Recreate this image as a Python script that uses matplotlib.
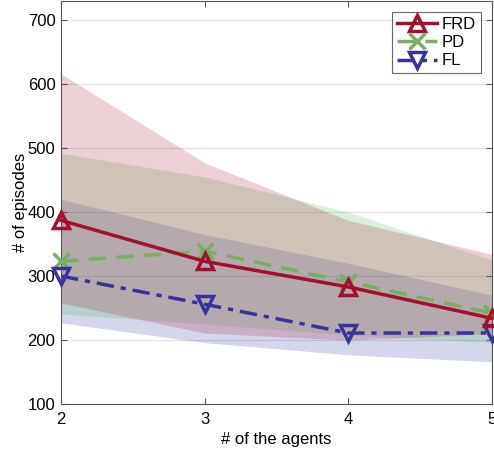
import matplotlib
matplotlib.use("Agg")
import matplotlib.pyplot as plt

plt.rcParams['font.family'] = ['Liberation Sans', 'DejaVu Sans']

agents = [2, 3, 4, 5]
frd_mean = [387, 323, 283, 234]
frd_upper = [616, 477, 387, 334]
frd_lower = [258, 211, 200, 210]
pd_mean = [323, 339, 291, 242]
pd_upper = [492, 455, 400, 325]
pd_lower = [241, 225, 208, 196]
fl_mean = [300, 256, 211, 211]
fl_upper = [420, 365, 320, 270]
fl_lower = [227, 196, 177, 166]
labels = ['FRD', 'PD', 'FL']

c_frd = '#a50f2d'
c_pd = '#76b064'
c_fl = '#37339a'

fig = plt.figure(figsize=(4.94, 4.54), dpi=100)
ax = fig.add_axes([0.1235, 0.110, 0.8725, 0.888])

ax.fill_between(agents, fl_lower, fl_upper, color=(0.16, 0.2, 0.6), alpha=0.2, linewidth=0)
ax.fill_between(agents, pd_lower, pd_upper, color=(0.31, 0.7, 0.31), alpha=0.2, linewidth=0)
ax.fill_between(agents, frd_lower, frd_upper, color=(0.63, 0.08, 0.2), alpha=0.2, linewidth=0)

ax.plot(agents, frd_mean, color=c_frd, lw=2.5, ls='-', marker='^', ms=11,
        mfc='none', mew=2.5, label=labels[0], clip_on=False, zorder=5)
ax.plot(agents, pd_mean, color=c_pd, lw=2.5, ls=(0, (5, 3)), marker='x', ms=11,
        mew=2.5, label=labels[1], clip_on=False, zorder=4)
ax.plot(agents, fl_mean, color=c_fl, lw=2.5, ls=(0, (5, 2, 1.5, 2)), marker='v', ms=11,
        mfc='none', mew=2.5, label=labels[2], clip_on=False, zorder=4)

ax.set_xlim(2, 5)
ax.set_ylim(100, 730)
ax.set_xticks(agents)
ax.set_yticks(range(100, 701, 100))
ax.tick_params(direction='in', top=True, right=True, labelsize=12, length=4,
               color='#555555')
ax.tick_params(axis='y', pad=4)
ax.tick_params(axis='x', pad=6)
ax.grid(axis='y', color='#e0e0e0', lw=0.8)
ax.set_axisbelow(True)
for s in ax.spines.values():
    s.set_color('#555555')
    s.set_linewidth(0.8)

ax.set_xlabel('# of the agents', fontsize=12, labelpad=3)
ax.set_ylabel('# of episodes', fontsize=12, labelpad=0)

leg = ax.legend(loc='upper right', fontsize=12, handlelength=2.4, fancybox=False,
                framealpha=1, edgecolor='#666666', borderpad=0.3, labelspacing=0.2,
                handletextpad=0.3, borderaxespad=0, bbox_to_anchor=(0.974, 0.973))
leg.get_frame().set_linewidth(0.8)

fig.savefig('out.png', dpi=100)
